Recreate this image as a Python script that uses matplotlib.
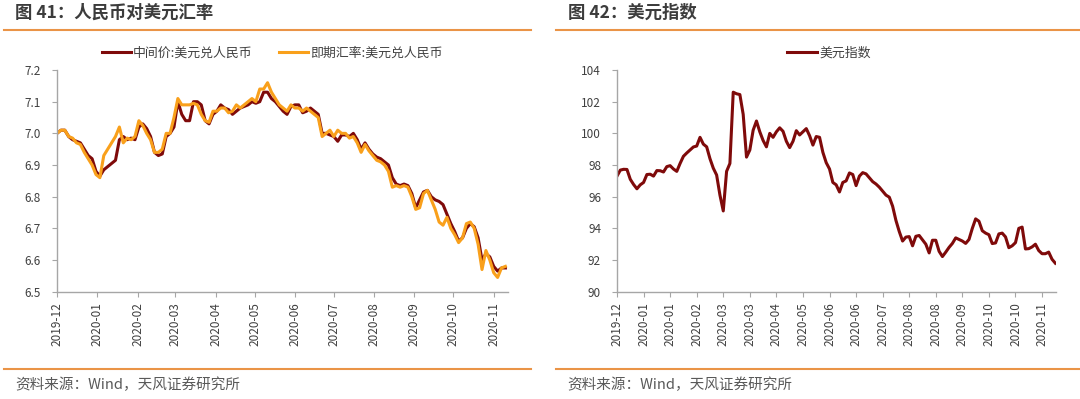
import pandas as pd
import numpy as np
import matplotlib.pyplot as plt
import matplotlib.dates as mdates
from matplotlib.lines import Line2D

plt.rcParams['font.family'] = ['Noto Sans CJK SC', 'DejaVu Sans']

# 图41: 人民币对美元汇率, one reading every 3 days from 2019-12-01
mid_rate = [7.00, 7.01, 7.01, 6.99, 6.98, 6.975, 6.97, 6.95, 6.93, 6.92,
            6.88, 6.865, 6.885, 6.895, 6.905, 6.915, 6.98, 6.99, 6.98, 6.985,
            6.98, 7.02, 7.03, 7.015, 6.99, 6.94, 6.93, 6.935, 6.99, 7.00,
            7.02, 7.10, 7.06, 7.04, 7.04, 7.10, 7.10, 7.09, 7.04, 7.03,
            7.06, 7.07, 7.09, 7.08, 7.075, 7.06, 7.07, 7.08, 7.085, 7.09,
            7.10, 7.095, 7.10, 7.13, 7.13, 7.11, 7.10, 7.085, 7.07, 7.06,
            7.085, 7.09, 7.09, 7.065, 7.07, 7.08, 7.07, 7.06, 7.00, 7.00,
            6.995, 6.99, 6.975, 6.995, 6.995, 6.99, 7.00, 6.98, 6.95, 6.97,
            6.95, 6.935, 6.925, 6.92, 6.91, 6.90, 6.86, 6.84, 6.835, 6.84,
            6.835, 6.81, 6.765, 6.79, 6.815, 6.82, 6.80, 6.79, 6.785, 6.775,
            6.745, 6.715, 6.69, 6.66, 6.67, 6.70, 6.715, 6.705, 6.67, 6.60,
            6.62, 6.61, 6.58, 6.565, 6.575, 6.575]
spot_rate = [7.00, 7.01, 7.01, 6.99, 6.985, 6.97, 6.965, 6.94, 6.92, 6.90,
             6.87, 6.86, 6.93, 6.95, 6.97, 6.99, 7.02, 6.97, 6.985, 6.98,
             6.99, 7.04, 7.025, 7.00, 6.98, 6.94, 6.94, 6.95, 7.00, 7.00,
             7.05, 7.11, 7.09, 7.09, 7.09, 7.095, 7.09, 7.06, 7.04, 7.035,
             7.07, 7.07, 7.08, 7.08, 7.065, 7.07, 7.09, 7.08, 7.09, 7.10,
             7.11, 7.10, 7.14, 7.14, 7.16, 7.13, 7.11, 7.09, 7.08, 7.07,
             7.09, 7.08, 7.08, 7.07, 7.08, 7.07, 7.06, 7.05, 6.99, 7.00,
             7.01, 6.99, 7.01, 7.00, 7.00, 6.985, 6.99, 6.97, 6.94, 6.965,
             6.945, 6.93, 6.915, 6.91, 6.90, 6.88, 6.83, 6.835, 6.83, 6.835,
             6.83, 6.80, 6.76, 6.765, 6.81, 6.82, 6.79, 6.76, 6.72, 6.71,
             6.735, 6.70, 6.68, 6.655, 6.67, 6.715, 6.72, 6.70, 6.65, 6.57,
             6.63, 6.60, 6.56, 6.545, 6.575, 6.58]
rate_dates = pd.date_range('2019-12-01', periods=len(mid_rate), freq='3D')

# 图42: 美元指数 (category axis, label every 8 points)
dxy = [97.3, 97.68, 97.73, 97.72, 97.1, 96.77, 96.5, 96.75, 96.9, 97.4,
       97.42, 97.3, 97.65, 97.64, 97.56, 97.9, 97.96, 97.75, 97.6, 98.1,
       98.55, 98.76, 98.95, 99.14, 99.2, 99.75, 99.32, 99.15, 98.4, 97.8,
       97.37, 96.1, 95.1, 97.6, 98.1, 102.6, 102.5, 102.45, 101.2, 98.5,
       98.95, 100.2, 100.78, 100.1, 99.55, 99.15, 100.0, 99.75, 100.1, 100.35,
       100.13, 99.5, 99.1, 99.5, 100.17, 99.9, 100.1, 100.3, 99.85, 99.26,
       99.8, 99.75, 98.8, 98.15, 97.75, 96.9, 96.75, 96.3, 96.9, 97.0,
       97.5, 97.4, 96.7, 97.3, 97.52, 97.44, 97.2, 96.95, 96.8, 96.6,
       96.35, 96.1, 95.97, 95.4, 94.5, 93.8, 93.2, 93.45, 93.48, 92.9,
       93.5, 93.55, 93.27, 93.0, 92.45, 93.25, 93.25, 92.55, 92.22, 92.5,
       92.8, 93.05, 93.4, 93.3, 93.2, 93.05, 93.3, 94.0, 94.6, 94.45,
       93.85, 93.7, 93.6, 93.04, 93.08, 93.65, 93.7, 93.46, 92.78, 92.9,
       93.1, 94.0, 94.08, 92.7, 92.72, 92.83, 93.0, 92.6, 92.4, 92.4,
       92.5, 92.05, 91.8]
dxy_labels = ['2019-12', '2020-01', '2020-01', '2020-02', '2020-03', '2020-03',
              '2020-04', '2020-05', '2020-06', '2020-06', '2020-07', '2020-08',
              '2020-08', '2020-09', '2020-10', '2020-10', '2020-11']

DARK = '#7F0A0A'
ORANGE = '#F9A01B'
RULE = '#EA9447'
AXIS = '#A6A6A6'
TXT = '#404040'

fig = plt.figure(figsize=(10.8, 3.99), dpi=100)


def style(ax):
    for s in ['top', 'right']:
        ax.spines[s].set_visible(False)
    for s in ['left', 'bottom']:
        ax.spines[s].set_color(AXIS)
        ax.spines[s].set_linewidth(1)
    ax.tick_params(axis='both', direction='out', length=3.5, width=0.8,
                   color=AXIS, labelsize=8.5, labelcolor=TXT)
    ax.tick_params(axis='y', pad=8)
    ax.tick_params(axis='x', pad=4, labelrotation=90)


# left panel
ax1 = fig.add_axes([57 / 1080, 0.2689, 451 / 1080, 0.5556])
ax1.plot(rate_dates, mid_rate, color=DARK, lw=2.2, label='中间价:美元兑人民币')
ax1.plot(rate_dates, spot_rate, color=ORANGE, lw=2.2, label='即期汇率:美元兑人民币')
ax1.set_xlim(pd.Timestamp('2019-12-01'), pd.Timestamp('2020-11-12'))
ax1.set_ylim(6.5, 7.2)
ax1.set_yticks(np.arange(6.5, 7.21, 0.1))
ax1.yaxis.set_major_formatter(plt.FormatStrFormatter('%.1f'))
ax1.xaxis.set_major_locator(mdates.MonthLocator())
ax1.xaxis.set_major_formatter(mdates.DateFormatter('%Y-%m'))
style(ax1)
ax1.legend(loc='center', bbox_to_anchor=(0.477, 1.077), ncol=2, frameon=False,
           fontsize=9.3, handlelength=2.3, handletextpad=0.15, columnspacing=2.0,
           labelcolor=TXT)

# right panel
ax2 = fig.add_axes([617 / 1080, 0.2689, 439 / 1080, 0.5556])
ax2.plot(np.arange(len(dxy)), dxy, color=DARK, lw=2.2, label='美元指数')
ax2.set_xlim(0, 132.2)
ax2.set_ylim(90, 104)
ax2.set_yticks(np.arange(90, 105, 2))
ax2.set_xticks(np.arange(0, 8 * len(dxy_labels), 8))
ax2.set_xticklabels(dxy_labels)
style(ax2)
ax2.legend(loc='center', bbox_to_anchor=(0.483, 1.077), frameon=False,
           fontsize=9.3, handlelength=2.3, handletextpad=0.15, labelcolor=TXT)

# titles, rules and sources
fig.text(15 / 1080, 0.967, '图 41：人民币对美元汇率', fontsize=12.5, fontweight='bold',
         color='#3C3C3C', va='center')
fig.text(568 / 1080, 0.967, '图 42：美元指数', fontsize=12.5, fontweight='bold',
         color='#3C3C3C', va='center')
for x0, x1 in [(4, 531), (556, 1080)]:
    for y in [1 - 30 / 399, 1 - 369 / 399]:
        fig.add_artist(Line2D([x0 / 1080, x1 / 1080], [y, y], transform=fig.transFigure,
                              color=RULE, lw=1.5))
fig.text(15 / 1080, 1 - 385 / 399, '资料来源：Wind，天风证券研究所', fontsize=10.5,
         color='#595959', va='center')
fig.text(567 / 1080, 1 - 385 / 399, '资料来源：Wind，天风证券研究所', fontsize=10.5,
         color='#595959', va='center')

fig.savefig('out.png', dpi=100)
